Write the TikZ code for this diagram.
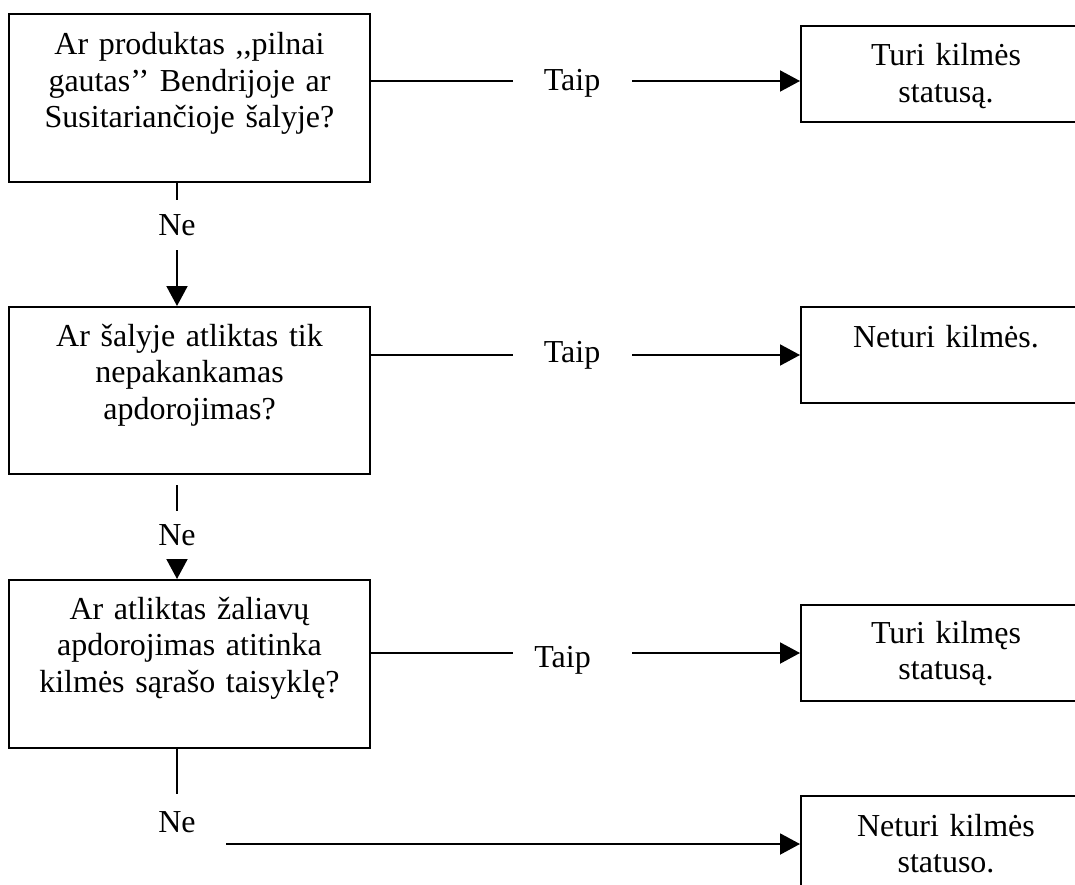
\documentclass[tikz,border=0pt]{standalone}
\usepackage{fontspec}
\setmainfont{Liberation Serif}[Ligatures=TeXOff]
\usetikzlibrary{arrows.meta,calc}
\tikzset{
  ln/.style={line width=2pt},
  arr/.style={ln,-{Triangle[length=20pt,width=21pt]}},
  qbox/.style={draw,line width=2pt,anchor=north west,inner sep=0pt,
    minimum width=361pt,text width=345pt,align=center,
    font=\fontsize{32}{36.5}\selectfont},
  rbox/.style={draw,line width=2pt,anchor=north west,inner sep=0pt,
    minimum width=290pt,text width=280pt,align=center,
    font=\fontsize{32}{36.5}\selectfont},
  lbl/.style={inner sep=0pt,font=\fontsize{32}{36.5}\selectfont},
}
\begin{document}
\begin{tikzpicture}[x=1pt,y=-1pt]
\useasboundingbox (0,0) rectangle (1075,885);
\clip (0,0) rectangle (1075,885);
\fill[white] (0,0) rectangle (1075,885);
% question boxes
\node[qbox,minimum height=168pt] (q1) at (8,13)
  {\rule{0pt}{41pt}Ar produktas ,,pilnai\\gautas’’ Bendrijoje ar\\Susitariančioje šalyje?\rule[-54pt]{0pt}{0pt}};
\node[qbox,minimum height=167pt] (q2) at (8,306)
  {\rule{0pt}{39pt}Ar šalyje atliktas tik\\nepakankamas\\apdorojimas?\rule[-55pt]{0pt}{0pt}};
\node[qbox,minimum height=168pt] (q3) at (8,579)
  {\rule{0pt}{39pt}Ar atliktas žaliavų\\apdorojimas atitinka\\kilmės sąrašo taisyklę?\rule[-56pt]{0pt}{0pt}};
% result boxes
\node[rbox,minimum height=96pt] (r1) at (800,25)
  {\rule{0pt}{40pt}Turi kilmės\\statusą.\rule[-19.5pt]{0pt}{0pt}};
\node[rbox,minimum height=96pt] (r2) at (800,306)
  {\rule{0pt}{40pt}Neturi kilmės.\rule[-56pt]{0pt}{0pt}};
\node[rbox,minimum height=96pt] (r3) at (800,604)
  {\rule{0pt}{38pt}Turi kilmęs\\statusą.\rule[-21.5pt]{0pt}{0pt}};
\node[rbox,minimum height=96pt] (r4) at (800,795)
  {\rule{0pt}{40pt}Neturi kilmės\\statuso.\rule[-19.5pt]{0pt}{0pt}};
% labels
\node[lbl,minimum height=50pt] (ne1) at (177,225) {Ne};
\node[lbl,minimum height=49pt] (ne2) at (177,535.5) {Ne};
\node[lbl,minimum height=57pt,minimum width=98pt] (ne3) at (177,822.5) {Ne};
\node[lbl,anchor=base] (t1) at (572,91) {Taip};
\node[lbl,anchor=base] (t2) at (572,362) {Taip};
\node[lbl,anchor=base] (t3) at (562.5,667) {Taip};
\coordinate (row1) at (0,81);
% vertical connectors
\draw[ln] (q1.south -| ne1.north) -- (ne1.north);
\draw[arr] (ne1.south) -- (ne1.south |- q2.north);
\draw[ln,shorten <=10pt] (q2.south -| ne2.north) -- (ne2.north);
\draw[arr] (ne2.south) -- (ne2.south |- q3.north);
\draw[ln] (q3.south -| ne3.north) -- (ne3.north);
\draw[arr] (ne3.east |- r4.west) -- (r4.west);
% yes connectors
\draw[ln,shorten >=30.7pt] (q1.east |- row1) -- (t1.west |- row1);
\draw[arr,shorten <=31.7pt] (t1.east |- row1) -- (r1.west |- row1);
\draw[ln,shorten >=30.7pt] (q2.east |- r2.west) -- (t2.west |- r2.west);
\draw[arr,shorten <=31.7pt] (t2.east |- r2.west) -- (r2.west);
\draw[ln,shorten >=21.2pt] (q3.east |- r3.west) -- (t3.west |- r3.west);
\draw[arr,shorten <=41.2pt] (t3.east |- r3.west) -- (r3.west);
\end{tikzpicture}
\end{document}
